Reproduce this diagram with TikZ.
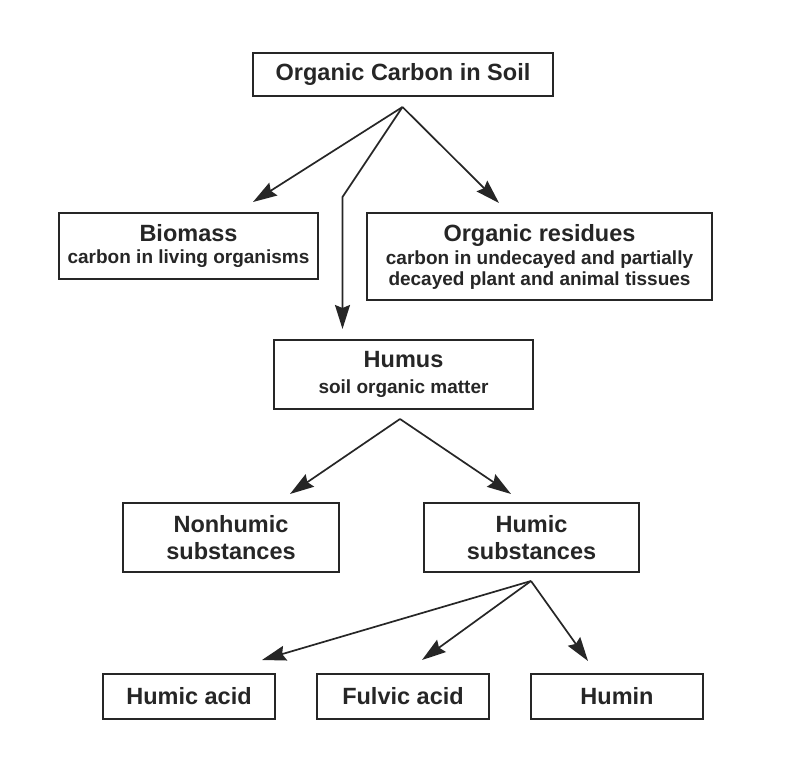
\documentclass[tikz,border=0pt]{standalone}
\usepackage{fontspec}
\setmainfont{Liberation Sans}
\usetikzlibrary{arrows.meta}
\newcommand{\hdf}{\fontsize{23.5}{27}\selectfont\bfseries}
\newcommand{\sbf}{\fontsize{19}{22}\selectfont\bfseries}
\begin{document}
\begin{tikzpicture}[x=1pt,y=-1pt,
  box/.style={draw=black!85, line width=1.8pt, rectangle, inner sep=0pt, align=center, text=black!85, font=\hdf},
  conn/.style={draw=black!85, line width=1.7pt, -{Stealth[length=24pt,width=15pt,inset=3pt]}}]
\useasboundingbox[fill=white] (0,0) rectangle (807,759);
\node[box, minimum width=300pt, minimum height=43pt] (top) at (403,74.5) {Organic Carbon in Soil};
\node[box, minimum width=259pt, minimum height=66pt] (bio) at (188.5,246) {Biomass\\[-4.5pt]{\sbf carbon in living organisms}};
\node[box, minimum width=345pt, minimum height=87pt] (res) at (539.5,256.5) {Organic residues\\[-4pt]{\sbf carbon in undecayed and partially}\\[-6pt]{\sbf decayed plant and animal tissues}};
\node[box, minimum width=259pt, minimum height=69pt] (hum) at (403.5,374.5) {Humus\\[-1pt]{\sbf soil organic matter}};
\node[box, minimum width=216pt, minimum height=69pt] (non) at (231,537.5) {Nonhumic\\substances};
\node[box, minimum width=215pt, minimum height=69pt] (hs) at (531.5,537.5) {Humic\\substances};
\node[box, minimum width=172pt, minimum height=45pt] (ha) at (189,696.5) {Humic acid};
\node[box, minimum width=172pt, minimum height=45pt] (fa) at (403,696.5) {Fulvic acid};
\node[box, minimum width=172pt, minimum height=45pt] (hn) at (617,696.5) {Humin};
% connector points
\coordinate (a1) at (402.5,107);
\coordinate (t1) at (253,202);
\coordinate (b1) at (342.5,197);
\coordinate (t2) at (342.5,329);
\coordinate (t3) at (499,203);
\coordinate (a2) at (400,419);
\coordinate (t4) at (290,494);
\coordinate (t5) at (511,494);
\coordinate (a3) at (531,581);
\coordinate (t6) at (262,660);
\coordinate (t7) at (422,660);
\coordinate (t8) at (588,661);
\draw[conn] (a1) -- (t1);
\draw[conn] (a1) -- (b1) -- (t2);
\draw[conn] (a1) -- (t3);
\draw[conn] (a2) -- (t4);
\draw[conn] (a2) -- (t5);
\draw[conn] (a3) -- (t6);
\draw[conn] (a3) -- (t7);
\draw[conn] (a3) -- (t8);
\end{tikzpicture}
\end{document}
